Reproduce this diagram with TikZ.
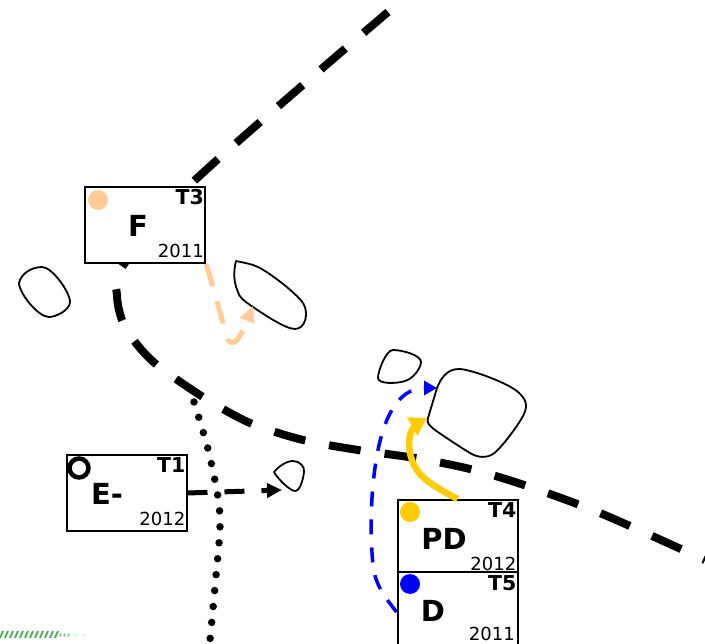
\documentclass[tikz,border=0pt]{standalone}
\usepackage{fontspec}
\setmainfont{DejaVu Sans}
\usetikzlibrary{arrows.meta}
\definecolor{peach}{HTML}{FFCC99}
\definecolor{gold}{HTML}{FFCC00}
\definecolor{hatch}{HTML}{4CAF50}

\tikzset{
  plotbox/.style={draw, fill=white, line width=2pt, minimum width=120pt, inner sep=0pt},
  plotname/.style={font=\bfseries\fontsize{29}{29}\selectfont, inner sep=0pt},
  tnum/.style={font=\bfseries\fontsize{20.5}{20.5}\selectfont, inner sep=1pt, anchor=north east},
  year/.style={font=\fontsize{18}{18}\selectfont, inner sep=1pt, anchor=south east},
  plotdot/.style={circle, inner sep=0pt, minimum size=20pt},
  isle/.style={line width=1.8pt, line join=round},
  road/.style={line width=8pt, dash pattern=on 32pt off 24.2pt},
}

\begin{document}
\begin{tikzpicture}[x=1pt, y=-1pt, >=Triangle]
  \useasboundingbox (0,0) rectangle (705,644);

  % green hatch
  \foreach \x in {0,5,...,55}
    \draw[hatch, line width=1.8pt] (\x,638) -- (\x+3,631);
  \foreach \x in {60,64,68}
    \draw[hatch!70, line width=1.6pt] (\x,636.5) -- (\x+1,633.5);
  \foreach \x in {75,83}
    \draw[hatch!35, line width=1.2pt] (\x,636) -- (\x+1,634.5);

  % islands
  \draw[isle] (19,283) .. controls (21,274) and (31,267) .. (42,267) .. controls (52,267) and (70,292) .. (70,302) .. controls (70,310) and (56,317) .. (49,317) .. controls (38,317) and (19,293) .. (19,283) -- cycle;
  \draw[isle] (236,261) .. controls (245,263) and (252,264) .. (258,267) .. controls (270,273) and (295,292) .. (303,303) .. controls (309,312) and (306,329) .. (295,329) .. controls (285,329) and (262,313) .. (253,307) .. controls (244,301) and (239,297) .. (238,292) .. controls (234,283) and (233,273) .. (236,261) -- cycle;
  \draw[isle] (393,350) .. controls (402,350) and (421,355) .. (421,362) .. controls (421,368) and (413,379) .. (405,381) .. controls (396,384) and (378,384) .. (378,378) .. controls (378,371) and (386,350) .. (393,350) -- cycle;
  \draw[isle] (437,388) .. controls (441,378) and (447,369) .. (459,369) .. controls (470,369) and (508,383) .. (518,392) .. controls (526,399) and (528,405) .. (524,414) .. controls (520,423) and (500,450) .. (493,454) .. controls (487,458) and (478,458) .. (470,453) .. controls (460,447) and (445,437) .. (435,430) .. controls (430,426) and (426,423) .. (428,418) -- cycle;
  \draw[isle] (274,472) .. controls (278,467) and (286,461) .. (293,461) .. controls (300,461) and (305,467) .. (304,472) .. controls (303,480) and (300,491) .. (295,491) .. controls (290,491) and (277,478) .. (274,472) -- cycle;

  % lines
  \coordinate (roadN) at (388,12);
  \coordinate (roadE) at (705,560);
  \draw[road] plot[smooth, tension=0.5] coordinates {(roadN) (193,182) (122,267) (117,295) (122,320) (135,342) (157,365) (203,397) (250,423) (303,440) (358,450) (415,458) (470,469) (524,485) (600,513) (roadE)};
  \draw[line width=7.5pt, line cap=round, dash pattern=on 0pt off 16pt] plot[smooth] coordinates {(194,402) (208,449) (218,497) (220,528) (216,576) (210,640)};

  % plots
  \node[plotbox, minimum height=76pt] (F) at (145,225) {};
  \node[plotbox, minimum height=76pt] (E) at (126.5,493) {};
  \node[plotbox, minimum height=72pt] (PD) at (457.5,536) {};
  \node[plotbox, minimum height=80pt] (D) at (457.5,612) {};

  \node[plotdot, fill=peach] (Fdot) at (98,200) {};
  \node[plotdot, draw, line width=4.5pt, minimum size=19pt] (Edot) at (79,468) {};
  \node[plotdot, fill=gold] (PDdot) at (410,512) {};
  \node[plotdot, fill=blue] (Ddot) at (410,584) {};

  \node[plotname] (Fname) at (138,226) {F};
  \node[plotname] (Ename) at (107,494) {E-};
  \node[plotname] (PDname) at (444,539) {PD};
  \node[plotname] (Dname) at (433,611) {D};

  \node[tnum, xshift=-1pt, yshift=-2pt] (Ft) at (F.north east) {T3};
  \node[tnum, xshift=-1pt, yshift=-2pt] (Et) at (E.north east) {T1};
  \node[tnum, xshift=-1pt, yshift=-2pt] (PDt) at (PD.north east) {T4};
  \node[tnum, xshift=-1pt, yshift=-3pt] (Dt) at (D.north east) {T5};

  \node[year, xshift=-1pt, yshift=5pt] (Fy) at (F.south east) {2011};
  \node[year, xshift=-1pt, yshift=5pt] (Ey) at (E.south east) {2012};
  \node[year, xshift=-1pt, yshift=1pt] (PDy) at (PD.south east) {2012};
  \node[year, xshift=-2pt] (Dy) at (518,642) {2011};

  % arrows
  \coordinate (isleF) at (253,306);
  \coordinate (isleE) at (282,490);
  \coordinate (islePD) at (427,418);
  \coordinate (isleD) at (437,388);
  \draw[->, >={Triangle[length=15pt, width=14pt]}, line width=5pt, dash pattern=on 20pt off 17pt] (E.east) -- (isleE);
  \draw[->, >={Triangle[length=16pt, width=15pt]}, peach, line width=5pt, dash pattern=on 23pt off 16pt] plot[smooth, tension=0.5] coordinates {(F.south east) (213,287) (223,323) (228,340) (235,342) (243,330) (isleF)};
  \draw[->, >={Triangle[length=17pt, width=20pt]}, gold, line width=6.5pt] (PD.north) .. controls (435,487) and (420,478) .. (414,465) .. controls (409,455) and (407,440) .. (412,430) .. controls (415,425) and (420,422) .. (islePD);
  \draw[->, >={Triangle[length=13pt, width=14pt]}, blue, line width=3.5pt, dash pattern=on 15pt off 13pt] (D.west) .. controls (385,597) and (375,585) .. (373,565) .. controls (370,535) and (370,490) .. (378,450) .. controls (383,425) and (395,388) .. (isleD);
\end{tikzpicture}
\end{document}
